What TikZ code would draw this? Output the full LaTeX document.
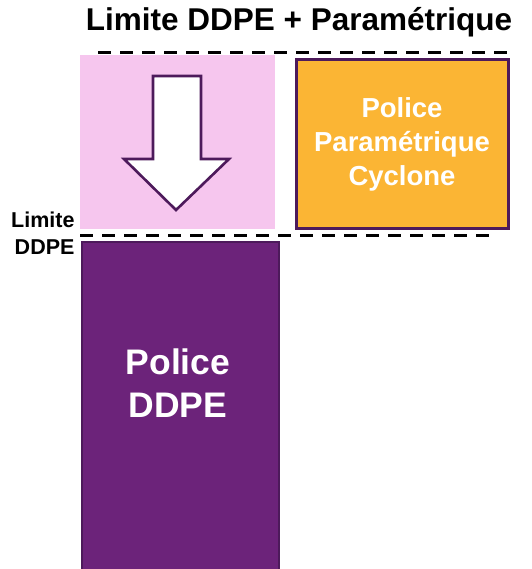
\documentclass[tikz,border=0pt]{standalone}
\usepackage{fontspec}
\setmainfont{Liberation Sans}
\definecolor{pinkfill}{HTML}{F6C6EE}
\definecolor{orangefill}{HTML}{FBB534}
\definecolor{purplefill}{HTML}{6C237A}
\definecolor{darkpurple}{HTML}{4D1A5B}
\begin{document}
\begin{tikzpicture}[x=1pt,y=1pt,
  limline/.style={line width=3pt, dash pattern=on 13pt off 9pt, black},
  wtext/.style={text=white, font=\bfseries, align=center},
  blktext/.style={text=black, font=\bfseries},
]
\useasboundingbox (0,0) rectangle (531,-569);
\begin{scope}
\clip (0,0) rectangle (531,-569);
% title
\node[blktext, font=\fontsize{31.5}{36}\selectfont\bfseries, anchor=center] (title) at (299,-22) {Limite DDPE + Paramétrique};
% pink area
\node[fill=pinkfill, draw=none, minimum width=195pt, minimum height=174pt, anchor=north west, inner sep=0pt] (pink) at (80,-55) {};
% down arrow
\draw[draw=darkpurple, line width=2.6pt, fill=white, line join=miter]
  (153,-76) -- (201,-76) -- (201,-159) -- (229,-159) -- (176,-210) -- (124,-159) -- (153,-159) -- cycle;
% orange box
\node[fill=orangefill, draw=darkpurple, line width=3pt, minimum width=212pt, minimum height=168pt, anchor=north west, inner sep=0pt,
  wtext, font=\fontsize{27.5}{34}\selectfont\bfseries] (param) at (294.5,-58.5) {Police\\Paramétrique\\Cyclone};
% purple box
\node[fill=purplefill, draw=darkpurple, line width=2pt, minimum width=197pt, minimum height=340pt, anchor=north west, inner sep=0pt] (ddpe) at (81,-241) {};
\node[wtext, font=\fontsize{35.5}{43}\selectfont\bfseries] (ddpetext) at (178,-383.5) {Police\\DDPE};
% limit label
\node[blktext, font=\fontsize{21.5}{27}\selectfont\bfseries, align=right, anchor=east] (limlabel) at (78,-233) {Limite\\DDPE};
% dashed lines
\coordinate (t1) at (98,-53);
\coordinate (t2) at (507,-53);
\coordinate (b1) at (80,-235);
\coordinate (b2) at (492,-235);
\draw[limline] (t1) -- (t2);
\draw[limline] (b1) -- (b2);
\end{scope}
\end{tikzpicture}
\end{document}
